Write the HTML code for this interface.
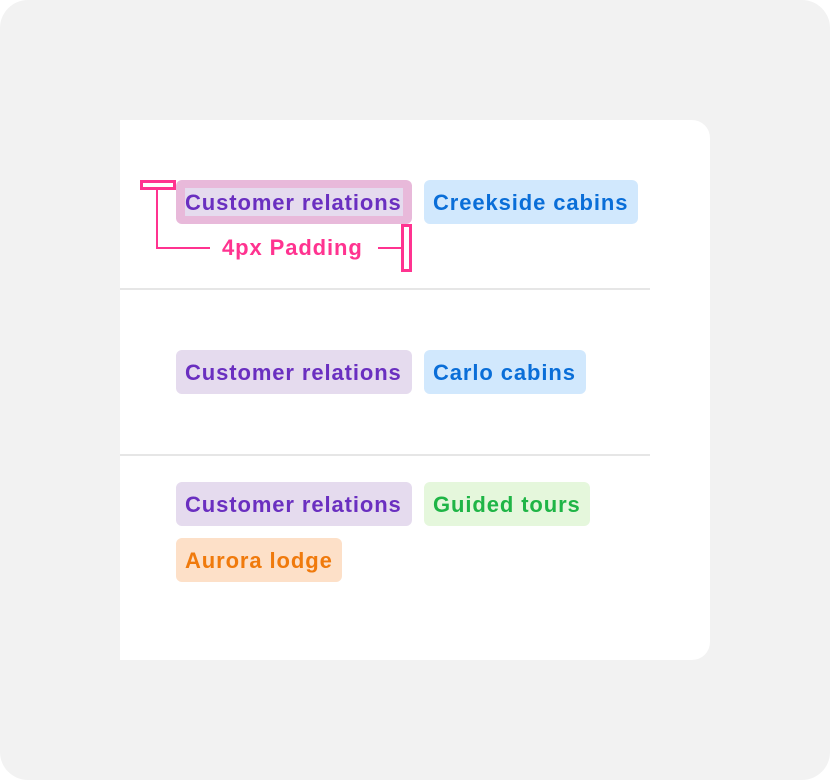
<!DOCTYPE html>
<html><head><style>
body{margin:0;width:830px;height:780px;background:#fff;font-family:"Liberation Sans",sans-serif;}
.outer{position:absolute;left:0;top:0;width:830px;height:780px;background:#f2f2f2;border-radius:28px;}
.card{position:absolute;left:120px;top:120px;width:590px;height:540px;background:#fff;border-radius:0 18px 18px 0;}
.hr{position:absolute;left:120px;width:530px;height:2px;background:#e6e6e6;}
.tag{position:absolute;height:44px;line-height:46px;font-weight:bold;font-size:22px;letter-spacing:0.9px;padding:0 9px;border-radius:6px;box-sizing:border-box;white-space:nowrap;}
.p{background:#e5dbee;color:#6a2fc0;}
.b{background:#d1e8fd;color:#0a6ed8;}
.g{background:#e5f7dc;color:#1fb546;}
.o{background:#fde0c8;color:#f07a0c;}
.pk{position:absolute;background:#ff3390;}
</style></head><body>
<div class="outer"></div>
<div class="card"></div>
<div class="hr" style="top:288px"></div>
<div class="hr" style="top:454px"></div>

<div class="tag p" style="left:176px;top:180px;width:236px;background:#e8b9da;"></div>
<div style="position:absolute;left:185px;top:188px;width:218px;height:28px;background:#e5dbee;"></div>
<div class="tag" style="left:176px;top:180px;width:236px;color:#6a2fc0;background:transparent;">Customer relations</div>
<div class="tag b" style="left:424px;top:180px;width:214px;">Creekside cabins</div>

<div style="position:absolute;left:140px;top:180px;width:36px;height:10px;border:3px solid #ff3390;box-sizing:border-box;"></div>
<div class="pk" style="left:156px;top:190px;width:2px;height:59px"></div>
<div class="pk" style="left:156px;top:247px;width:54px;height:2px"></div>
<div class="pk" style="left:378px;top:247px;width:24px;height:2px"></div>
<div style="position:absolute;left:401px;top:224px;width:11px;height:48px;border:3px solid #ff3390;box-sizing:border-box;"></div>
<div style="position:absolute;left:222px;top:235px;font-weight:bold;font-size:22px;letter-spacing:0.9px;color:#ff3390;">4px Padding</div>

<div class="tag p" style="left:176px;top:350px;width:236px;">Customer relations</div>
<div class="tag b" style="left:424px;top:350px;width:162px;">Carlo cabins</div>

<div class="tag p" style="left:176px;top:482px;width:236px;">Customer relations</div>
<div class="tag g" style="left:424px;top:482px;width:166px;">Guided tours</div>
<div class="tag o" style="left:176px;top:538px;width:166px;">Aurora lodge</div>
</body></html>
